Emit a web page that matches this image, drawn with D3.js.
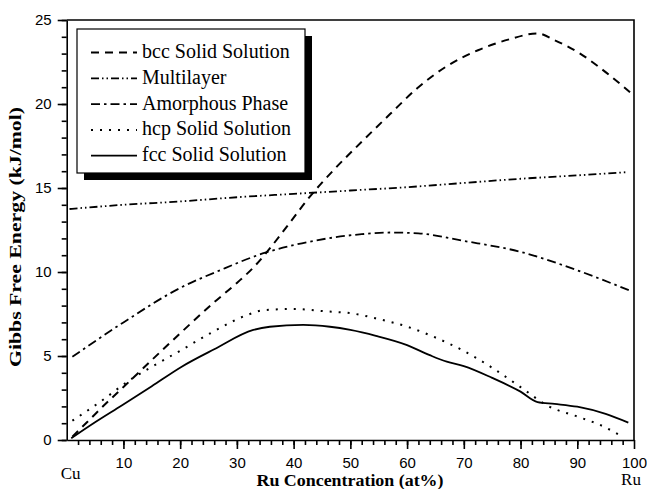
<!DOCTYPE html>
<html>
<head>
<meta charset="utf-8">
<script src="https://cdn.jsdelivr.net/npm/d3@7"></script>
<style>
  body { margin: 0; background: #fff; }
  svg { display: block; }
  .tick text { font-family: "Liberation Sans", Arial, sans-serif; font-size: 15px; fill: #000; }
</style>
</head>
<body>
<svg id="chart" width="647" height="489"></svg>
<script>
// series data (Ru at%, kJ/mol)
const bccX = [1, 4, 7, 10, 14.5, 20, 26, 30, 33, 35.2, 38.8, 42.9, 47, 52, 57, 62, 67, 72.5, 78, 83, 86, 90.5, 94.6, 99.3];
const bccY = [0.2, 1.2, 2.2, 3.15, 4.6, 6.35, 8.2, 9.35, 10.3, 11.15, 12.7, 14.5, 16.05, 17.75, 19.4, 21.0, 22.25, 23.2, 23.85, 24.2, 23.8, 23.0, 22.0, 20.7];

const multiX = [0.5, 10, 20, 30, 40, 50, 60, 70, 80, 90, 99];
const multiY = [13.75, 14.0, 14.2, 14.45, 14.65, 14.85, 15.05, 15.3, 15.55, 15.75, 15.95];

const amorX = [1, 10, 20, 27, 35, 40, 46, 52, 57, 62, 70, 80, 90, 99.2];
const amorY = [4.95, 7.0, 9.05, 10.1, 11.15, 11.6, 12.0, 12.25, 12.35, 12.3, 11.85, 11.2, 10.1, 8.9];

const hcpX = [1, 5.6, 11.5, 16.8, 20.2, 25.3, 32.3, 34.5, 40, 46, 50, 55, 60, 65, 70, 75, 80, 85, 90, 94, 98];
const hcpY = [1.15, 2.2, 3.65, 4.7, 5.35, 6.35, 7.5, 7.72, 7.8, 7.65, 7.55, 7.2, 6.75, 6.1, 5.3, 4.3, 3.15, 2.0, 1.4, 0.9, 0.2];

const fccX = [0.8, 5, 9.7, 15, 20.2, 26, 32.9, 35.8, 41.7, 46.4, 50, 54.5, 60, 64, 67, 70, 75, 80, 83, 86, 90, 95, 99];
const fccY = [0.1, 1.05, 2.05, 3.2, 4.35, 5.4, 6.55, 6.74, 6.85, 6.74, 6.55, 6.2, 5.65, 5.05, 4.66, 4.4, 3.7, 2.88, 2.26, 2.15, 1.98, 1.55, 1.03];

const seriesNames = ['bcc Solid Solution', 'Multilayer', 'Amorphous Phase', 'hcp Solid Solution', 'fcc Solid Solution'];
const xTickValues = [10, 20, 30, 40, 50, 60, 70, 80, 90, 100];
const yTickValues = [0, 5, 10, 15, 20, 25];

// line styles per series (same order as names)
const dashes = ['8,6', '8,3,1.5,3,1.5,3', '9,4,2.5,4', '2,7', null];
const widths = [2, 1.8, 1.8, 2, 1.8];

const series = [
  { xs: bccX, ys: bccY },
  { xs: multiX, ys: multiY },
  { xs: amorX, ys: amorY },
  { xs: hcpX, ys: hcpY },
  { xs: fccX, ys: fccY }
];

const svg = d3.select('#chart');
const plotLeft = 66.7, plotRight = 634, plotTop = 20, plotBottom = 440;

const x = d3.scaleLinear().domain([0, 100]).range([plotLeft, plotRight]);
const y = d3.scaleLinear().domain([0, 25]).range([plotBottom, plotTop]);

// frame top and right
svg.append('path')
  .attr('d', 'M' + plotLeft + ',' + plotTop + 'H' + plotRight + 'V' + plotBottom)
  .attr('fill', 'none')
  .attr('stroke', '#000')
  .attr('stroke-width', 1.6);

// minor ticks
const yMinor = d3.axisLeft(y).tickValues(d3.range(0, 26, 1)).tickSize(5).tickFormat('').tickSizeOuter(0);
svg.append('g').attr('transform', 'translate(' + plotLeft + ',0)').call(yMinor)
  .call(g => g.select('.domain').remove());
const xMinor = d3.axisBottom(x).tickValues(d3.range(2, 100, 2)).tickSize(5).tickFormat('').tickSizeOuter(0);
svg.append('g').attr('transform', 'translate(0,' + plotBottom + ')').call(xMinor)
  .call(g => g.select('.domain').remove());

// major ticks + labels
const yAxis = d3.axisLeft(y).tickValues(yTickValues).tickSize(9).tickPadding(6).tickSizeOuter(0);
svg.append('g').attr('transform', 'translate(' + plotLeft + ',0)').call(yAxis);
const xAxis = d3.axisBottom(x).tickValues(xTickValues).tickSize(9).tickPadding(8).tickSizeOuter(0);
svg.append('g').attr('transform', 'translate(0,' + plotBottom + ')').call(xAxis);

svg.selectAll('.domain, .tick line').attr('stroke', '#000').attr('stroke-width', 1.6);

// curves
const line = d3.line().x(d => x(d[0])).y(d => y(d[1])).curve(d3.curveMonotoneX);
series.forEach((s, i) => {
  svg.append('path')
    .datum(s.xs.map((v, j) => [v, s.ys[j]]))
    .attr('d', line)
    .attr('fill', 'none')
    .attr('stroke', '#000')
    .attr('stroke-width', widths[i])
    .attr('stroke-dasharray', dashes[i]);
});

// axis titles
svg.append('text')
  .attr('x', 350).attr('y', 486)
  .attr('text-anchor', 'middle')
  .attr('font-family', '"Liberation Serif", "Times New Roman", serif')
  .attr('font-weight', 'bold')
  .attr('font-size', 17)
  .attr('textLength', 187)
  .attr('lengthAdjust', 'spacingAndGlyphs')
  .text('Ru Concentration (at%)');

svg.append('text')
  .attr('transform', 'translate(21,237) rotate(-90)')
  .attr('text-anchor', 'middle')
  .attr('font-family', '"Liberation Serif", "Times New Roman", serif')
  .attr('font-weight', 'bold')
  .attr('font-size', 17)
  .attr('textLength', 260)
  .attr('lengthAdjust', 'spacingAndGlyphs')
  .text('Gibbs Free Energy (kJ/mol)');

svg.append('text')
  .attr('x', x(0) + 4).attr('y', 479)
  .attr('text-anchor', 'middle')
  .attr('font-family', '"Liberation Serif", "Times New Roman", serif')
  .attr('font-size', 17)
  .text('Cu');
svg.append('text')
  .attr('x', x(100) - 3).attr('y', 485)
  .attr('text-anchor', 'middle')
  .attr('font-family', '"Liberation Serif", "Times New Roman", serif')
  .attr('font-size', 17)
  .text('Ru');

// legend with drop shadow
const lg = svg.append('g');
lg.append('rect').attr('x', 84).attr('y', 36).attr('width', 228).attr('height', 144).attr('fill', '#000');
lg.append('rect').attr('x', 77).attr('y', 29).attr('width', 228).attr('height', 144)
  .attr('fill', '#fff').attr('stroke', '#000').attr('stroke-width', 1.2);

seriesNames.forEach((name, i) => {
  const by = 58 + i * 25.8;
  lg.append('line')
    .attr('x1', 91).attr('x2', 137)
    .attr('y1', by - 5.5).attr('y2', by - 5.5)
    .attr('stroke', '#000')
    .attr('stroke-width', widths[i])
    .attr('stroke-dasharray', dashes[i]);
  lg.append('text')
    .attr('x', 142).attr('y', by)
    .attr('font-family', '"Liberation Serif", "Times New Roman", serif')
    .attr('font-size', 20)
    .text(name);
});
</script>
</body>
</html>
